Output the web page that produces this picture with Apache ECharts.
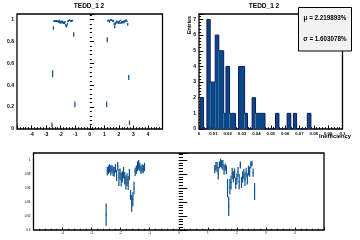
<!DOCTYPE html>
<html><head><meta charset="utf-8">
<script src="https://cdn.jsdelivr.net/npm/echarts@6/dist/echarts.min.js"></script>
<style>html,body{margin:0;padding:0;background:#fff}#c{width:360px;height:240px}</style>
</head><body><div id="c"></div>
<script>
// efficiency vs eta (points with vertical error)
const eta = [-2.60,-2.55,-2.50,
 -2.46,-2.42,-2.38,-2.34,-2.30,-2.26,-2.22,-2.18,-2.14,-2.10,-2.06,-2.02,-1.98,-1.94,-1.90,-1.86,-1.82,-1.78,-1.74,-1.70,-1.66,-1.62,-1.58,-1.54,-1.50,-1.46,-1.42,-1.38,-1.34,-1.30,-1.26,-1.22,-1.18,
 -1.10,-1.02,
 1.16,1.20,
 1.24,1.28,1.32,1.36,1.40,1.44,1.48,1.52,1.56,1.60,1.64,1.68,1.72,1.76,1.80,1.84,1.88,1.92,1.96,2.00,2.04,2.08,2.12,2.16,2.20,2.24,2.28,2.32,2.36,2.40,2.44,2.48,2.52,2.56,
 2.61,2.68,2.73];
const eff = [0.036,0.504,0.922,
 0.984,0.986,0.988,0.985,0.987,0.984,0.983,0.988,0.978,0.991,0.975,0.980,0.972,0.976,0.982,0.974,0.968,0.972,0.967,0.979,0.950,0.938,0.944,0.960,0.983,0.986,0.991,0.993,0.990,0.986,0.988,0.987,0.990,
 0.863,0.225,
 0.225,0.814,
 0.987,0.991,0.990,0.981,0.993,0.996,0.994,0.993,0.986,0.990,0.986,0.960,0.934,0.962,0.968,0.981,0.976,0.981,0.967,0.973,0.983,0.969,0.993,0.968,0.976,0.980,0.972,0.982,0.973,0.985,0.983,0.993,0.995,0.982,
 0.955,0.471,0.057];
const err = [0.020,0.032,0.016,
 0.006,0.006,0.006,0.007,0.006,0.007,0.007,0.006,0.008,0.006,0.012,0.008,0.010,0.008,0.008,0.009,0.010,0.009,0.010,0.008,0.007,0.012,0.010,0.009,0.006,0.006,0.007,0.007,0.006,0.006,0.006,0.006,0.006,
 0.020,0.026,
 0.026,0.023,
 0.006,0.006,0.007,0.009,0.005,0.006,0.006,0.007,0.007,0.005,0.006,0.013,0.014,0.011,0.010,0.008,0.008,0.007,0.008,0.008,0.007,0.011,0.005,0.008,0.008,0.007,0.009,0.007,0.008,0.007,0.007,0.005,0.004,0.006,
 0.012,0.023,0.020];
const etaHalfWidth = 0.02;

// inefficiency histogram
const binLo  = [0.0008,0.0055,0.0078,0.0113,0.0138,0.0172,0.0188,0.0213,0.0276,0.0318,0.0370,0.0394,0.0533,0.0614,0.0658,0.0755];
const binHi  = [0.0032,0.0078,0.0113,0.0138,0.0172,0.0188,0.0213,0.0255,0.0318,0.0338,0.0394,0.0460,0.0557,0.0640,0.0680,0.0780];
const counts = [2,7,3,6,5,1,4,1,4,1,2,1,1,1,1,1];

const statLines = ["\u03bc = 2.219893%", "\u03c3 = 1.603078%"];
const titleText = "TEDD_1 2";

const PT = '#0b4f8f', FILL = '#0a4786', EDGE = '#101a5c';
const FONT = 'Liberation Sans';

const effData = eta.map((x,i)=>[x, eff[i], err[i]]);
function errRender(params, api){
  const x = api.value(0), y = api.value(1), e = api.value(2);
  const a = api.coord([x, y - e]), b = api.coord([x, y + e]);
  const c = api.coord([x - etaHalfWidth, y]), d = api.coord([x + etaHalfWidth, y]);
  return {type:'group', children:[
    {type:'line', shape:{x1:a[0],y1:a[1],x2:b[0],y2:b[1]}, style:{stroke:PT,lineWidth:1.2}},
    {type:'line', shape:{x1:c[0],y1:c[1],x2:d[0],y2:d[1]}, style:{stroke:PT,lineWidth:1.2}}
  ]};
}
const histData = binLo.map((lo,i)=>[lo, binHi[i], counts[i]]);
function histRender(params, api){
  const a = api.coord([api.value(0), api.value(2)]);
  const b = api.coord([api.value(1), 0]);
  return {type:'rect', shape:{x:a[0], y:a[1], width:b[0]-a[0], height:b[1]-a[1]}, style:{fill:FILL}};
}
// step contour
const contour = [];
let prevHi = null;
binLo.forEach((lo,i)=>{
  if (prevHi === null || lo > prevHi + 1e-9) { if (prevHi !== null) contour.push([prevHi,0]); contour.push([lo,0]); }
  contour.push([lo, counts[i]]); contour.push([binHi[i], counts[i]]);
  prevHi = binHi[i];
});
contour.push([prevHi,0]);

function axisCommon(o){
  return Object.assign({
    type:'value', splitLine:{show:false},
    axisLine:{show:false},
  }, o);
}
function fmtStep(step, dec){
  return v => { const k = v/step; return Math.abs(k-Math.round(k))<1e-6 ? String(parseFloat(v.toFixed(dec))) : ''; };
}

const chart = echarts.init(document.getElementById('c'), null, {renderer:'canvas'});
chart.setOption({
  animation:false,
  grid:[
    {left:17, top:14, width:145.5, height:115, show:true, borderColor:'#000', borderWidth:1.3, backgroundColor:'transparent'},
    {left:199, top:14, width:143.5, height:115, show:true, borderColor:'#000', borderWidth:1.3, backgroundColor:'transparent'},
    {left:33.5, top:153, width:290.5, height:77, show:true, borderColor:'#000', borderWidth:1.3, backgroundColor:'transparent'}
  ],
  xAxis:[
    axisCommon({gridIndex:0, min:-5, max:5, interval:1,
      axisTick:{inside:true, length:3.5, lineStyle:{color:'#000'}},
      minorTick:{show:true, splitNumber:5, length:1.8, lineStyle:{color:'#000'}},
      axisLabel:{color:'#000', fontFamily:FONT, fontWeight:'bold', fontSize:5, margin:3, showMinLabel:false, showMaxLabel:false}}),
    axisCommon({gridIndex:1, min:0, max:0.1, interval:0.01,
      axisTick:{inside:true, length:3.5, lineStyle:{color:'#000'}},
      minorTick:{show:true, splitNumber:5, length:1.8, lineStyle:{color:'#000'}},
      axisLabel:{color:'#000', fontFamily:FONT, fontWeight:'bold', fontSize:4.3, margin:3, formatter:fmtStep(0.01,2)}}),
    axisCommon({gridIndex:2, min:-5, max:5, interval:1,
      axisTick:{inside:true, length:2.4, lineStyle:{color:'#000'}},
      minorTick:{show:true, splitNumber:5, length:1.2, lineStyle:{color:'#000'}},
      axisLabel:{color:'#000', fontFamily:FONT, fontSize:3, margin:1.5, showMinLabel:false, showMaxLabel:false}})
  ],
  yAxis:[
    axisCommon({gridIndex:0, min:0, max:1.05, interval:0.2,
      axisTick:{inside:true, length:4.4, lineStyle:{color:'#000'}},
      minorTick:{show:true, splitNumber:5, length:2.2, lineStyle:{color:'#000'}},
      axisLabel:{color:'#000', fontFamily:FONT, fontWeight:'bold', fontSize:5, margin:3, formatter:fmtStep(0.2,1)}}),
    axisCommon({gridIndex:1, min:0, max:7.35, interval:1,
      axisTick:{inside:true, length:4.3, lineStyle:{color:'#000'}},
      minorTick:{show:true, splitNumber:5, length:2.2, lineStyle:{color:'#000'}},
      axisLabel:{color:'#000', fontFamily:FONT, fontWeight:'bold', fontSize:5, margin:3, formatter:fmtStep(1,0)}}),
    axisCommon({gridIndex:2, min:0.9, max:1.01, interval:0.02,
      axisTick:{inside:true, length:8.5, lineStyle:{color:'#000'}},
      minorTick:{show:true, splitNumber:5, length:4.2, lineStyle:{color:'#000'}},
      axisLabel:{color:'#000', fontFamily:FONT, fontSize:3, margin:3, formatter:fmtStep(0.02,2)}})
  ],
  series:[
    {type:'custom', xAxisIndex:0, yAxisIndex:0, data:effData, renderItem:errRender, clip:true},
    {type:'custom', xAxisIndex:1, yAxisIndex:1, data:histData, renderItem:histRender, clip:true},
    {type:'line', xAxisIndex:1, yAxisIndex:1, data:contour, symbol:'none', lineStyle:{color:EDGE, width:1}, z:3},
    {type:'custom', xAxisIndex:2, yAxisIndex:2, data:effData, renderItem:errRender, clip:true}
  ],
  graphic:[
    {type:'text', x:89, y:6, style:{text:titleText, font:'bold 6.5px "Liberation Sans"', fill:'#000', align:'center', verticalAlign:'middle'}},
    {type:'text', x:264, y:6, style:{text:titleText, font:'bold 6.5px "Liberation Sans"', fill:'#000', align:'center', verticalAlign:'middle'}},
    {type:'text', x:189.5, y:16, rotation:Math.PI/2, style:{text:'Entries', font:'bold 5.3px "Liberation Sans"', fill:'#000', align:'right', verticalAlign:'middle'}},
    {type:'text', x:351, y:136, style:{text:'Inefficiency', font:'bold 5.8px "Liberation Sans"', fill:'#000', align:'right', verticalAlign:'middle'}},
    {type:'rect', z:100, shape:{x:298.5, y:7.5, width:53, height:43.5}, style:{fill:'#f2f2f2', stroke:'#000', lineWidth:1}},
    {type:'text', z:101, x:325, y:18.5, style:{text:statLines[0], font:'bold 6.3px "Liberation Sans"', fill:'#000', align:'center', verticalAlign:'middle'}},
    {type:'text', z:101, x:325, y:39.5, style:{text:statLines[1], font:'bold 6.3px "Liberation Sans"', fill:'#000', align:'center', verticalAlign:'middle'}}
  ]
});
</script></body></html>
